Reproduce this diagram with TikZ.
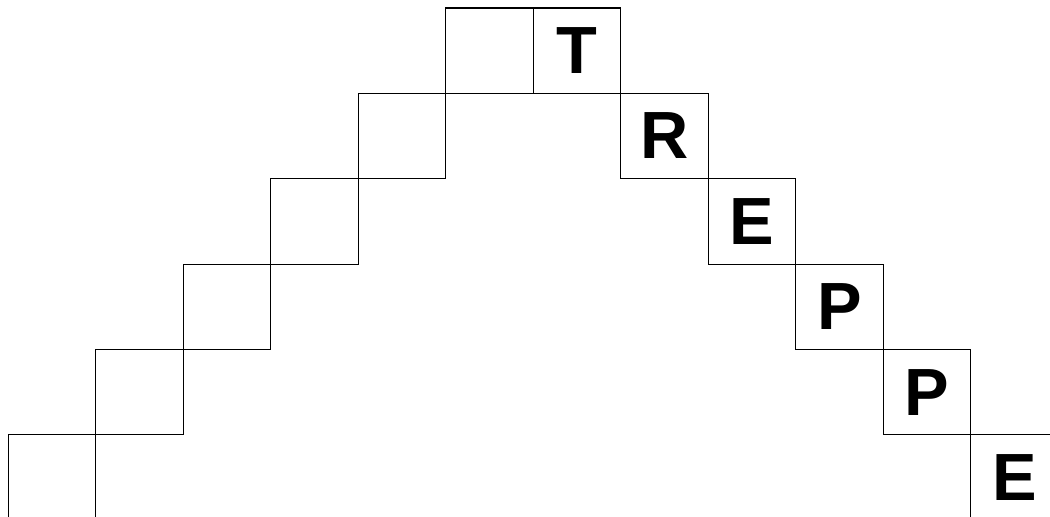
\documentclass[tikz,border=0pt]{standalone}
\usepackage{fontspec}
\setsansfont{Liberation Sans}
\usetikzlibrary{positioning}
\tikzset{
  stufe/.style={
    draw, line width=0.6pt, minimum width=1.75cm, minimum height=1.7067cm,
    inner sep=0pt, font=\sffamily\bfseries\fontsize{38}{38}\selectfont
  }
}
\begin{document}
\begin{tikzpicture}[x=1.75cm, y=-1.7067cm]
  \clip (0,0) rectangle (12,6.058);
  % left flight, empty steps
  \foreach \c in {0,...,5}{
    \node[stufe] (l\c) at ({\c+0.595},{5-\c+0.594}) {};
  }
  % right flight with the word
  \foreach \c/\name in {0/T,1/R,2/E,3/P,4/P,5/E}{
    \node[stufe] (r\c) at ({\c+6.595},{\c+0.594}) {\name};
  }
\end{tikzpicture}
\end{document}
